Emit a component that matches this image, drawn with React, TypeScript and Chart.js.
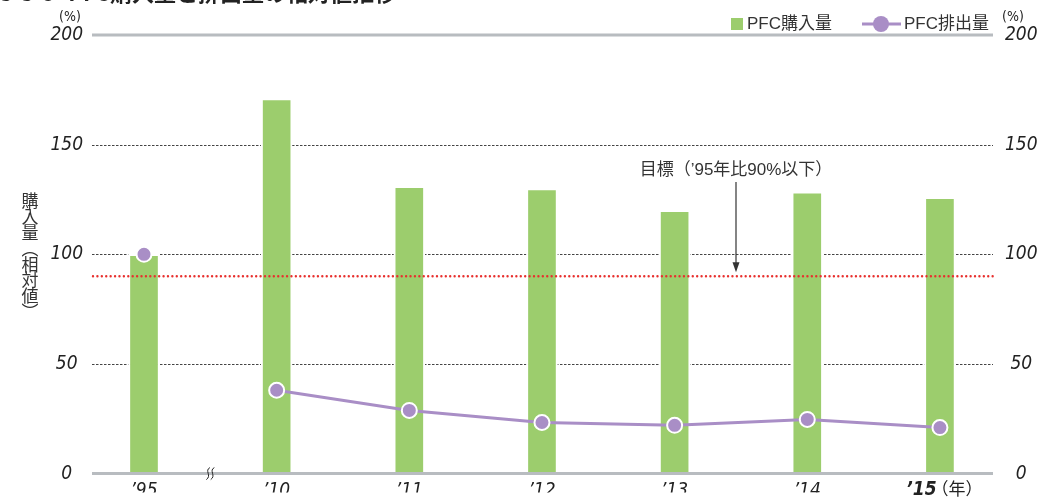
import React, { useEffect, useRef } from "react";
import { Chart, registerables } from "chart.js";

Chart.register(...registerables);

// ---- data ----
const categories = ["’95", "’10", "’11", "’12", "’13", "’14", "’15"];
const purchaseValues = [100, 171, 131, 130, 120, 128.5, 126];
const emissionValues = [100, 38, 28.8, 23.3, 22, 24.7, 21];
const yTickValues = [0, 50, 100, 150, 200];
const dashedGridValues = [50, 100, 150];
const targetValue = 90;
const seriesNames = ["PFC購入量", "PFC排出量"];
const targetLabel = "目標（’95年比90%以下）";
const yAxisTitleChars = ["購", "入", "量", "︵", "相", "対", "値", "︶"];
const yearUnit = "（年）";
const unitLabel = "(%)";
const titlePrefix = "3-3-5 ";
const titleText = "PFC購入量と排出量の相対値推移";

// ---- styles ----
const GREEN = "#9ccd6d";
const PURPLE = "#a98ec6";
const NUM_FAMILY = '"DejaVu Sans Condensed", "Liberation Sans Narrow", sans-serif';
const JP_FAMILY = '"Liberation Sans", "Noto Sans CJK JP", sans-serif';

const decorPlugin = {
  id: "decor",
  beforeDatasetsDraw(chart: any) {
    const { ctx, chartArea: a, scales } = chart;
    const y = scales.y;
    ctx.save();
    ctx.strokeStyle = "#444";
    ctx.lineWidth = 1;
    ctx.setLineDash([2.5, 1.5]);
    for (const v of dashedGridValues) {
      const py = Math.round(y.getPixelForValue(v)) + 0.5;
      ctx.beginPath();
      ctx.moveTo(a.left, py);
      ctx.lineTo(a.right, py);
      ctx.stroke();
    }
    ctx.setLineDash([]);
    ctx.strokeStyle = "#b8bcc0";
    ctx.lineWidth = 3;
    const pt = y.getPixelForValue(200);
    ctx.beginPath();
    ctx.moveTo(a.left, pt);
    ctx.lineTo(a.right, pt);
    ctx.stroke();
    ctx.restore();
  },
  afterDatasetsDraw(chart: any) {
    const { ctx, chartArea: a, scales } = chart;
    const y = scales.y;
    const x = scales.x;
    ctx.save();
    ctx.strokeStyle = "#b8bcc0";
    ctx.lineWidth = 3;
    const pb = y.getPixelForValue(0);
    ctx.beginPath();
    ctx.moveTo(a.left, pb);
    ctx.lineTo(a.right, pb);
    ctx.stroke();

    const pr = y.getPixelForValue(targetValue);
    ctx.strokeStyle = "#e8302e";
    ctx.lineWidth = 2.4;
    ctx.lineCap = "round";
    ctx.setLineDash([0.01, 4.4]);
    ctx.beginPath();
    ctx.moveTo(a.left + 1, pr);
    ctx.lineTo(a.right, pr);
    ctx.stroke();
    ctx.setLineDash([]);
    ctx.lineCap = "butt";

    const bx = (x.getPixelForValue(0) + x.getPixelForValue(1)) / 2;
    ctx.strokeStyle = "#222";
    ctx.lineWidth = 1;
    for (const dx of [-2.2, 2.2]) {
      const cx = bx + dx;
      ctx.beginPath();
      ctx.moveTo(cx + 1.8, pb - 6);
      ctx.bezierCurveTo(cx - 4, pb - 3, cx + 4, pb + 2, cx - 1.8, pb + 6);
      ctx.stroke();
    }

    const ax = 736;
    ctx.fillStyle = "#333";
    ctx.font = '17px ' + JP_FAMILY;
    ctx.textAlign = "center";
    ctx.textBaseline = "middle";
    ctx.fillText(targetLabel, ax, 170);
    ctx.strokeStyle = "#333";
    ctx.lineWidth = 1.2;
    ctx.beginPath();
    ctx.moveTo(ax, 182);
    ctx.lineTo(ax, pr - 10);
    ctx.stroke();
    ctx.beginPath();
    ctx.moveTo(ax - 3.5, pr - 14);
    ctx.lineTo(ax + 3.5, pr - 14);
    ctx.lineTo(ax, pr - 4);
    ctx.closePath();
    ctx.fillStyle = "#333";
    ctx.fill();
    ctx.restore();
  },
  afterDraw(chart: any) {
    const { ctx, scales } = chart;
    const x = scales.x;
    ctx.save();
    const lastIdx = categories.length - 1;
    const cx = x.getPixelForValue(lastIdx);
    ctx.textBaseline = "middle";
    ctx.textAlign = "left";
    const boldFont = 'italic bold 19px ' + NUM_FAMILY;
    const unitFont = '17px ' + JP_FAMILY;
    ctx.font = boldFont;
    const w1 = ctx.measureText(categories[lastIdx]).width;
    ctx.font = unitFont;
    const w2 = ctx.measureText(yearUnit).width;
    const start = cx + 4 - (w1 + w2 - 6) / 2;
    ctx.fillStyle = "#222";
    ctx.font = boldFont;
    ctx.fillText(categories[lastIdx], start, 490);
    ctx.font = unitFont;
    ctx.fillText(yearUnit, start + w1 - 5, 490);

    ctx.font = '14px ' + NUM_FAMILY;
    ctx.textAlign = "center";
    ctx.fillText(unitLabel, 70, 17);
    ctx.fillText(unitLabel, 1013, 17);

    ctx.font = '17px "Noto Sans CJK JP", sans-serif';
    ctx.textAlign = "center";
    ctx.fillStyle = "#333";
    let ty = 201;
    for (const ch of yAxisTitleChars) {
      ctx.fillText(ch, 30, ty);
      ty += 15.8;
    }

    ctx.fillStyle = GREEN;
    ctx.fillRect(731, 18, 12, 12);
    ctx.fillStyle = "#333";
    ctx.font = '17px ' + JP_FAMILY;
    ctx.textAlign = "left";
    ctx.fillText(seriesNames[0], 747, 24);
    ctx.strokeStyle = PURPLE;
    ctx.lineWidth = 3;
    ctx.beginPath();
    ctx.moveTo(862, 24);
    ctx.lineTo(901, 24);
    ctx.stroke();
    ctx.beginPath();
    ctx.arc(881, 24, 8, 0, Math.PI * 2);
    ctx.fillStyle = PURPLE;
    ctx.fill();
    ctx.fillStyle = "#333";
    ctx.fillText(seriesNames[1], 904, 24);

    ctx.font = 'bold 22px "Noto Sans CJK JP", sans-serif';
    ctx.fillStyle = "#222";
    ctx.textBaseline = "alphabetic";
    const pw = ctx.measureText("PFC").width;
    ctx.fillText(titleText, 110 - pw, 1);
    ctx.fillText(titlePrefix, 0, 1);
    ctx.restore();
  },
};

export default function App() {
  const ref = useRef<HTMLCanvasElement | null>(null);

  useEffect(() => {
    if (!ref.current) return;
    const tickFont = { family: NUM_FAMILY, size: 19, style: "italic" };
    const chart = new Chart(ref.current, {
      type: "bar",
      data: {
        datasets: [
          {
            type: "line",
            label: seriesNames[1],
            data: emissionValues.map((v, i) => ({ x: i, y: v })),
            borderColor: PURPLE,
            borderWidth: 3,
            pointRadius: 7.5,
            pointBackgroundColor: PURPLE,
            pointBorderColor: "#ffffff",
            pointBorderWidth: 2,
            tension: 0,
            order: 0,
            segment: {
              borderColor: (c: any) => (c.p0DataIndex === 0 ? "rgba(0,0,0,0)" : PURPLE),
            },
          } as any,
          {
            type: "bar",
            label: seriesNames[0],
            data: purchaseValues.map((v, i) => ({ x: i, y: v })),
            backgroundColor: GREEN,
            borderColor: "#ffffff",
            borderWidth: 2,
            borderSkipped: "bottom",
            barThickness: 31,
            order: 1,
          } as any,
        ],
      },
      options: {
        responsive: false,
        animation: false,
        layout: { padding: { top: 35, left: 0, right: 0, bottom: 0 } },
        plugins: { legend: { display: false }, tooltip: { enabled: false } },
        scales: {
          x: {
            type: "linear",
            offset: false,
            min: -0.392,
            max: 6.4,
            grid: { display: false, drawTicks: false, offset: false },
            border: { display: false },
            afterBuildTicks: (s: any) => {
              s.ticks = categories.map((_, i) => ({ value: i }));
            },
            afterFit: (s: any) => {
              s.height = 19;
            },
            ticks: {
              autoSkip: false,
              maxRotation: 0,
              padding: 6,
              color: "#222",
              font: tickFont,
              callback: (v: any) =>
                Number.isInteger(v) && v < categories.length - 1 ? categories[v] : "",
            },
          },
          y: {
            type: "linear",
            position: "left",
            min: 0,
            max: 200,
            grid: { display: false, drawTicks: false },
            border: { display: false },
            afterBuildTicks: (s: any) => {
              s.ticks = yTickValues.map((v) => ({ value: v }));
            },
            afterFit: (s: any) => {
              s.width = 92;
            },
            ticks: {
              padding: 9,
              crossAlign: "center",
              color: "#222",
              font: tickFont,
            },
          },
          y1: {
            type: "linear",
            position: "right",
            min: 0,
            max: 200,
            grid: { display: false, drawTicks: false },
            border: { display: false },
            afterBuildTicks: (s: any) => {
              s.ticks = yTickValues.map((v) => ({ value: v }));
            },
            afterFit: (s: any) => {
              s.width = 50;
            },
            ticks: {
              padding: 12,
              crossAlign: "center",
              color: "#222",
              font: tickFont,
            },
          },
        },
      } as any,
      plugins: [decorPlugin],
    });
    return () => chart.destroy();
  }, []);

  return (
    <div style={{ position: "absolute", left: 0, top: 0, width: 1043, height: 497, background: "#fff" }}>
      <canvas ref={ref} width={1043} height={497} style={{ width: 1043, height: 497 }} />
    </div>
  );
}
